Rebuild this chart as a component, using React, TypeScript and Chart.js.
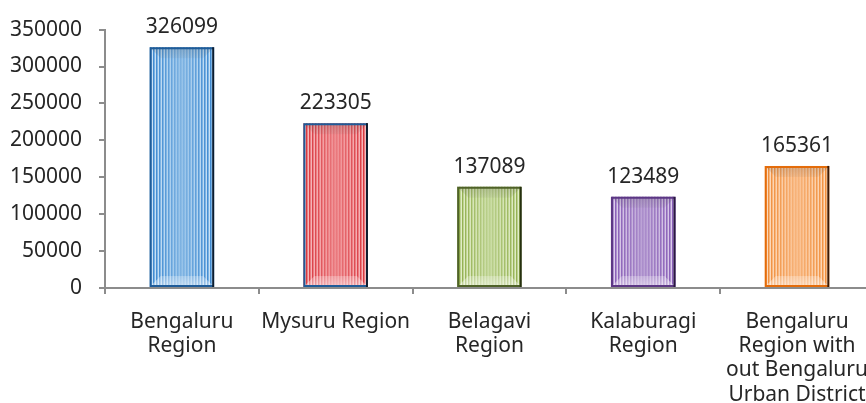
import React, { useEffect, useRef } from 'react';
import { Chart, registerables } from 'chart.js';

Chart.register(...registerables);

// ---- data ----
const categories: (string | string[])[] = [
  ['Bengaluru', 'Region'],
  'Mysuru Region',
  ['Belagavi', 'Region'],
  ['Kalaburagi', 'Region'],
  ['Bengaluru', 'Region with', 'out Bengaluru', 'Urban District'],
];
const values = [326099, 223305, 137089, 123489, 165361];
const yTickValues = [0, 50000, 100000, 150000, 200000, 250000, 300000, 350000];

// ---- styles ----
const FONT = '"Noto Sans", "DejaVu Sans", sans-serif';
const TEXT = '#262626';
const AXIS = '#8c8c8c';
const stripeDark = ['#3a86cf', '#d6333b', '#8fab4a', '#865ab6', '#ef8c38'];
const stripeMid = ['#78b1e3', '#ec7a7f', '#bcd38f', '#ac90cc', '#f7b47a'];
const stripeLight = ['#cfe5f7', '#f7bcbf', '#e4eecb', '#e0d2ee', '#fddcbf'];
const centerFill = ['#8cbce6', '#ee878b', '#c4d89b', '#b398d0', '#f9bb87'];
const borderCol = ['#1f5c99', '#1f5c99', '#4f6228', '#5c3785', '#e46c0a'];
const shadowCol = ['#0c1d30', '#0c1d30', '#26300f', '#2a1840', '#3a1a05'];

function hexA(hex: string, a: number) {
  const n = parseInt(hex.slice(1), 16);
  return `rgba(${(n >> 16) & 255},${(n >> 8) & 255},${n & 255},${a})`;
}

function makePattern(dark: string, mid: string, light: string): CanvasPattern | string {
  const c = document.createElement('canvas');
  c.width = 3;
  c.height = 1;
  const g = c.getContext('2d');
  if (!g) return dark;
  [dark, mid, light].forEach((col, i) => {
    g.fillStyle = col;
    g.fillRect(i, 0, 1, 1);
  });
  return g.createPattern(c, 'repeat') || dark;
}

const barDecor = {
  id: 'barDecor',
  afterDatasetsDraw(chart: any) {
    const ctx: CanvasRenderingContext2D = chart.ctx;
    const meta = chart.getDatasetMeta(0);
    meta.data.forEach((bar: any, i: number) => {
      const { x, y, base, width } = bar.getProps(['x', 'y', 'base', 'width'], true);
      const l = x - width / 2;
      const r = x + width / 2;
      const t = Math.min(y, base);
      const b = Math.max(y, base);
      ctx.save();
      // smooth centre
      const g = ctx.createLinearGradient(l, 0, r, 0);
      g.addColorStop(0, hexA(centerFill[i], 0));
      g.addColorStop(0.2, hexA(centerFill[i], 0.3));
      g.addColorStop(0.5, hexA(centerFill[i], 0.85));
      g.addColorStop(0.8, hexA(centerFill[i], 0.3));
      g.addColorStop(1, hexA(centerFill[i], 0));
      ctx.fillStyle = g;
      ctx.fillRect(l, t, r - l, b - t);
      // bevels
      const d = Math.min(11, width / 4, (b - t) / 2);
      const tg = ctx.createLinearGradient(0, t, 0, t + d);
      tg.addColorStop(0, 'rgba(70,70,70,0.2)');
      tg.addColorStop(1, 'rgba(70,70,70,0.06)');
      ctx.beginPath();
      ctx.moveTo(l, t);
      ctx.lineTo(r, t);
      ctx.lineTo(r - d, t + d);
      ctx.lineTo(l + d, t + d);
      ctx.closePath();
      ctx.fillStyle = tg;
      ctx.fill();
      const bg = ctx.createLinearGradient(0, b, 0, b - d);
      bg.addColorStop(0, 'rgba(255,255,255,0.5)');
      bg.addColorStop(1, 'rgba(255,255,255,0.25)');
      ctx.beginPath();
      ctx.moveTo(l, b);
      ctx.lineTo(r, b);
      ctx.lineTo(r - d, b - d);
      ctx.lineTo(l + d, b - d);
      ctx.closePath();
      ctx.fillStyle = bg;
      ctx.fill();
      // borders
      ctx.lineWidth = 2;
      ctx.strokeStyle = borderCol[i];
      ctx.beginPath();
      ctx.moveTo(r - 1, t + 1);
      ctx.lineTo(l + 1, t + 1);
      ctx.lineTo(l + 1, b - 1);
      ctx.lineTo(r - 1, b - 1);
      ctx.stroke();
      ctx.strokeStyle = shadowCol[i];
      ctx.beginPath();
      ctx.moveTo(r - 1, t);
      ctx.lineTo(r - 1, b);
      ctx.stroke();
      // value label
      ctx.fillStyle = TEXT;
      ctx.font = `21px ${FONT}`;
      ctx.textAlign = 'center';
      ctx.textBaseline = 'middle';
      ctx.fillText(String(values[i]), x, t - 20);
      ctx.restore();
    });
  },
};

export default function App() {
  const ref = useRef<HTMLCanvasElement>(null);
  useEffect(() => {
    if (!ref.current) return;
    const patterns = stripeDark.map((d, i) => makePattern(d, stripeMid[i], stripeLight[i]));
    const chart = new Chart(ref.current, {
      type: 'bar',
      data: {
        labels: categories,
        datasets: [
          {
            data: values,
            backgroundColor: patterns as any,
            borderWidth: 0,
            barPercentage: 0.42,
            categoryPercentage: 1,
          },
        ],
      },
      options: {
        responsive: false,
        animation: false,
        layout: { padding: { top: 18, right: 0, left: 0, bottom: 0 } },
        plugins: { legend: { display: false }, tooltip: { enabled: false } },
        scales: {
          x: {
            offset: true,
            grid: { drawOnChartArea: false, offset: true, tickLength: 6, color: AXIS, lineWidth: 2 },
            border: { color: AXIS, width: 2 },
            ticks: {
              maxRotation: 0,
              minRotation: 0,
              autoSkip: false,
              padding: 16,
              color: TEXT,
              font: { family: FONT, size: 21, lineHeight: 1.15 },
            },
            afterFit: (s: any) => {
              s.height = 115;
            },
          },
          y: {
            min: 0,
            max: 350000,
            grid: { drawOnChartArea: false, tickLength: 6, color: AXIS, lineWidth: 2 },
            border: { color: AXIS, width: 2 },
            afterBuildTicks: (s: any) => {
              s.ticks = yTickValues.map((v) => ({ value: v }));
            },
            ticks: {
              padding: 17,
              color: TEXT,
              font: { family: FONT, size: 21 },
              callback: (v: any) => String(v),
            },
            afterFit: (s: any) => {
              s.width = 105;
            },
          },
        },
      },
      plugins: [barDecor],
    });
    return () => chart.destroy();
  }, []);
  return (
    <div
      style={{
        position: 'fixed',
        left: 0,
        top: 0,
        width: 866,
        height: 403,
        overflow: 'hidden',
        background: '#fff',
      }}
    >
      <canvas ref={ref} width={884} height={403} style={{ display: 'block', width: 884, height: 403 }} />
    </div>
  );
}
